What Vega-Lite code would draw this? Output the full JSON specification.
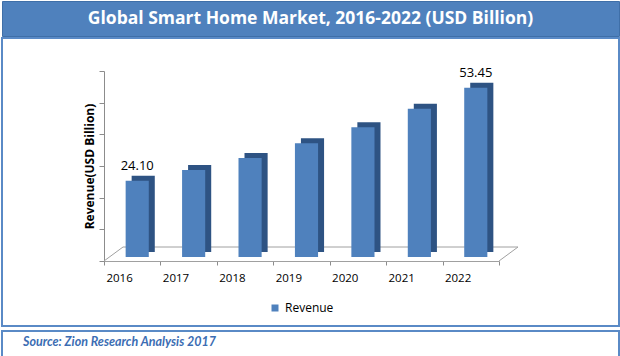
{
  "$schema": "https://vega.github.io/schema/vega-lite/v6.json",
  "padding": {"left": 1, "top": 0, "right": 2, "bottom": 1},
  "background": "white",
  "config": {"font": "Open Sans"},
  "spacing": 0,
  "vconcat": [
    {
      "width": 617,
      "height": 35,
      "view": {"fill": "#4F81BD", "stroke": "#3F6FA8", "strokeWidth": 1},
      "data": {"values": [{"t": "Global Smart Home Market, 2016-2022 (USD Billion)"}]},
      "mark": {"type": "text", "color": "white", "fontSize": 17.5, "fontWeight": "bold", "font": "Open Sans"},
      "encoding": {"text": {"field": "t"}}
    },
    {
      "spacing": 3,
      "vconcat": [
        {
          "width": 617,
          "height": 288,
          "view": {"fill": "white", "stroke": "#5A8AC6", "strokeWidth": 2},
          "data": {"values": [
            {"year": "2016", "revenue": 24.10},
            {"year": "2017", "revenue": 27.5},
            {"year": "2018", "revenue": 31.3},
            {"year": "2019", "revenue": 35.9},
            {"year": "2020", "revenue": 41.0},
            {"year": "2021", "revenue": 46.8},
            {"year": "2022", "revenue": 53.45}
          ]},
          "layer": [
            {
              "data": {"values": [{}]},
              "mark": {"type": "rule", "color": "#A0A0A0", "strokeWidth": 1, "xOffset": 19, "x2Offset": 19, "yOffset": -14, "y2Offset": -14},
              "encoding": {
                "x": {"datum": "2016", "type": "ordinal", "bandPosition": 0},
                "x2": {"datum": "2022", "bandPosition": 1},
                "y": {"datum": 0, "type": "quantitative"}
              }
            },
            {
              "data": {"values": [{}]},
              "mark": {"type": "rule", "color": "#A0A0A0", "strokeWidth": 1, "x2Offset": 19, "y2Offset": -14},
              "encoding": {
                "x": {"datum": "2016", "type": "ordinal", "bandPosition": 0},
                "x2": {"datum": "2016", "bandPosition": 0},
                "y": {"datum": 0, "type": "quantitative"},
                "y2": {"datum": 0}
              }
            },
            {
              "data": {"values": [{}]},
              "mark": {"type": "rule", "color": "#A0A0A0", "strokeWidth": 1, "x2Offset": 19, "y2Offset": -14},
              "encoding": {
                "x": {"datum": "2022", "type": "ordinal", "bandPosition": 1},
                "x2": {"datum": "2022", "bandPosition": 1},
                "y": {"datum": 0, "type": "quantitative"},
                "y2": {"datum": 0}
              }
            },
            {
              "mark": {"type": "bar", "color": "#2E5383", "width": {"band": 0.41}, "xOffset": 11, "x2Offset": 11, "yOffset": -9, "y2Offset": -9},
              "encoding": {
                "x": {"field": "year", "type": "ordinal"},
                "y": {"field": "revenue", "type": "quantitative"}
              }
            },
            {
              "mark": {"type": "bar", "width": {"band": 0.41}, "xOffset": 5, "x2Offset": 5, "yOffset": -4, "y2Offset": -4},
              "encoding": {
                "x": {
                  "field": "year",
                  "type": "ordinal",
                  "scale": {"range": [102, 497], "paddingInner": 0, "paddingOuter": 0},
                  "axis": {
                    "orient": "bottom", "offset": -65, "title": null, "labelAngle": 0,
                    "tickBand": "extent", "tickSize": 4, "tickColor": "#8C8C8C", "domainColor": "#A0A0A0",
                    "labelFont": "Open Sans", "labelFontSize": 11.5, "labelColor": "black", "labelPadding": 13, "grid": false
                  }
                },
                "y": {
                  "field": "revenue",
                  "type": "quantitative",
                  "scale": {"domain": [0, 60], "range": [223, 33], "nice": false},
                  "axis": {
                    "orient": "left", "offset": -102, "labels": false, "values": [0, 10, 20, 30, 40, 50, 60],
                    "tickSize": 5, "tickColor": "#8C8C8C", "domainColor": "#8C8C8C", "grid": false,
                    "title": "Revenue(USD Billion)", "titleFont": "Open Sans", "titleFontWeight": "bold",
                    "titleFontSize": 12, "titleColor": "black", "titlePadding": 2
                  }
                },
                "color": {
                  "datum": "Revenue",
                  "scale": {"range": ["#4F81BD"]},
                  "legend": {
                    "orient": "none", "legendX": 267, "legendY": 301, "title": null, "padding": 0,
                    "symbolType": "square", "symbolSize": 49, "symbolStrokeWidth": 0,
                    "labelFont": "Open Sans", "labelFontSize": 12, "labelColor": "black", "labelOffset": 4
                  }
                }
              }
            },
            {
              "transform": [{"filter": "datum.year == '2016' || datum.year == '2022'"}],
              "mark": {"type": "text", "fontSize": 13, "font": "Open Sans", "color": "black", "baseline": "bottom", "xOffset": 5, "dy": -12},
              "encoding": {
                "x": {"field": "year", "type": "ordinal"},
                "y": {"field": "revenue", "type": "quantitative"},
                "text": {"field": "revenue", "type": "quantitative", "format": ".2f"}
              }
            }
          ]
        },
        {
          "width": 617,
          "height": 29,
          "view": {"fill": "white", "stroke": "#5A8AC6", "strokeWidth": 2},
          "title": {
            "text": "Source: Zion Research Analysis 2017", "anchor": "start", "orient": "top", "frame": "group",
            "offset": -17, "dx": 21, "font": "Lato", "fontStyle": "italic", "fontWeight": "bold",
            "fontSize": 12.5, "color": "#3B6DB3"
          },
          "data": {"values": [{}]},
          "mark": {"type": "text"},
          "encoding": {"text": {"value": ""}}
        }
      ]
    }
  ]
}
